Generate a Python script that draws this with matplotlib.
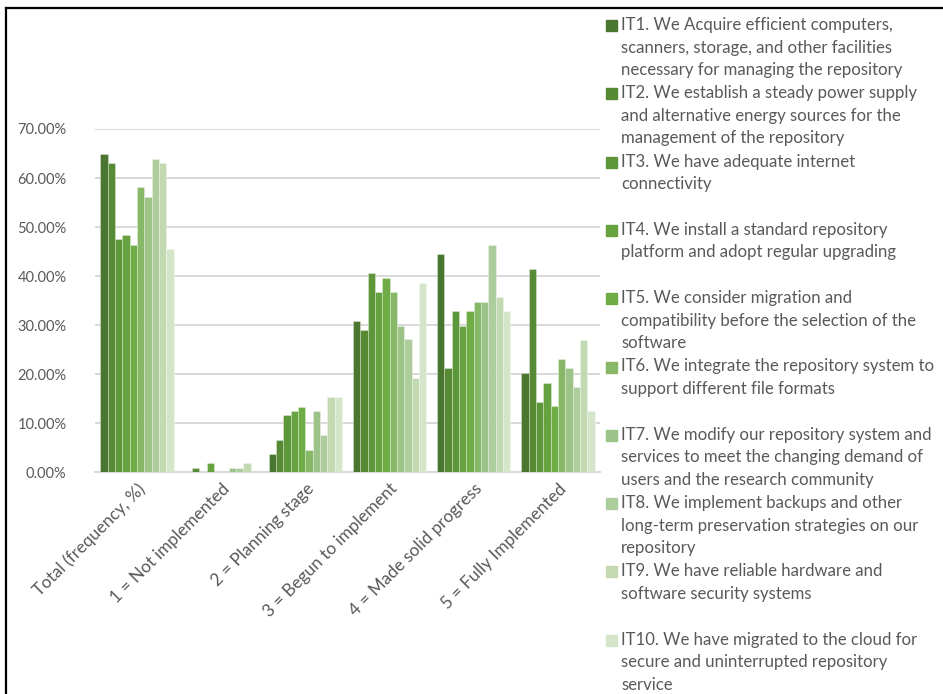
import matplotlib
matplotlib.use("Agg")
import matplotlib.pyplot as plt
import numpy as np
from matplotlib.patches import Rectangle
from matplotlib.lines import Line2D
from matplotlib.ticker import FuncFormatter

plt.rcParams['font.family'] = ['Lato', 'DejaVu Sans']

categories = ["Total (frequency, %)", "1 = Not implemented", "2 = Planning stage",
              "3 = Begun to implement", "4 = Made solid progress", "5 = Fully Implemented"]

# percent of respondents per item, one list per category
total       = [65.0, 63.0, 47.5, 48.4, 46.4, 58.2, 56.2, 63.9, 63.0, 45.6]
not_impl    = [0.0, 0.8, 0.0, 1.8, 0.0, 0.0, 0.8, 0.8, 1.8, 0.0]
planning    = [3.7, 6.6, 11.6, 12.4, 13.4, 4.6, 12.4, 7.6, 15.4, 15.4]
begun       = [30.9, 29.0, 40.6, 36.8, 39.7, 36.8, 29.9, 27.1, 19.3, 38.6]
solid       = [44.5, 21.2, 32.9, 29.9, 32.9, 34.8, 34.8, 46.4, 35.8, 32.9]
fully       = [20.2, 41.5, 14.3, 18.3, 13.5, 23.1, 21.2, 17.4, 27.0, 12.4]

items = [
    "IT1. We Acquire efficient computers,\nscanners, storage, and other facilities\nnecessary for managing the repository",
    "IT2. We establish a steady power supply\nand alternative energy sources for the\nmanagement of the repository",
    "IT3. We have adequate internet\nconnectivity",
    "IT4. We install a standard repository\nplatform and adopt regular upgrading",
    "IT5. We consider migration and\ncompatibility before the selection of the\nsoftware",
    "IT6. We integrate the repository system to\nsupport different file formats",
    "IT7. We modify our repository system and\nservices to meet the changing demand of\nusers and the research community",
    "IT8. We implement backups and other\nlong-term preservation strategies on our\nrepository",
    "IT9. We have reliable hardware and\nsoftware security systems",
    "IT10. We have migrated to the cloud for\nsecure and uninterrupted repository\nservice",
]

colors = ['#4a7630', '#578a35', '#5e963a', '#66a23f', '#6fac46',
          '#86b867', '#9cc388', '#adcd9c', '#c2d9b1', '#d4e5ca']

data = np.array([total, not_impl, planning, begun, solid, fully]) / 100.0

fig = plt.figure(figsize=(9.43, 6.94), dpi=100)
ax = fig.add_axes([95/943, 1-472.3/694, 505/943, (472.3-129)/694])

x = np.arange(len(categories))
w = 0.087
for k in range(len(items)):
    ax.bar(x - 5*w + (k+0.5)*w, data[:, k], width=w, color=colors[k],
           edgecolor=(1, 1, 1, 0.35), linewidth=0.6, zorder=3)

ax.set_xlim(-0.5, len(categories)-0.5)
ax.set_ylim(0, 0.70)
ax.set_yticks(np.arange(0, 0.701, 0.1))
ax.yaxis.set_major_formatter(FuncFormatter(lambda v, p: f"{v*100:.2f}%"))
ax.grid(axis='y', color='#d9d9d9', linewidth=1.4, zorder=0)
for s in ['top', 'right', 'left']:
    ax.spines[s].set_visible(False)
ax.spines['bottom'].set_color('#d9d9d9')
ax.spines['bottom'].set_linewidth(1.4)
ax.tick_params(axis='both', length=0, labelcolor='#595959')
ax.tick_params(axis='y', pad=20.5, labelsize=10.5)
ax.set_xticks(x)
ax.set_xticklabels(categories, rotation=45, ha='right', va='top',
                   rotation_mode='anchor')
ax.tick_params(axis='x', pad=6, labelsize=12.3)

# legend drawn by hand: fixed slot per item, square next to first line
slot = 68.3
for k, label in enumerate(items):
    ytop = 17 + k*slot
    fig.patches.append(Rectangle((606/943, 1-(ytop+14)/694), 11/943, 11/694,
                                 transform=fig.transFigure, color=colors[k]))
    fig.text(621/943, 1-ytop/694, label, ha='left', va='top', fontsize=12.1,
             color='#595959', linespacing=1.5)

# frame around the picture
fig.add_artist(Line2D([6/943, 6/943], [0, 1-8/694], transform=fig.transFigure,
                      color='black', linewidth=1.6))
fig.add_artist(Line2D([6/943, 1], [1-8/694, 1-8/694], transform=fig.transFigure,
                      color='black', linewidth=1.6))

fig.savefig("out.png", dpi=100)
